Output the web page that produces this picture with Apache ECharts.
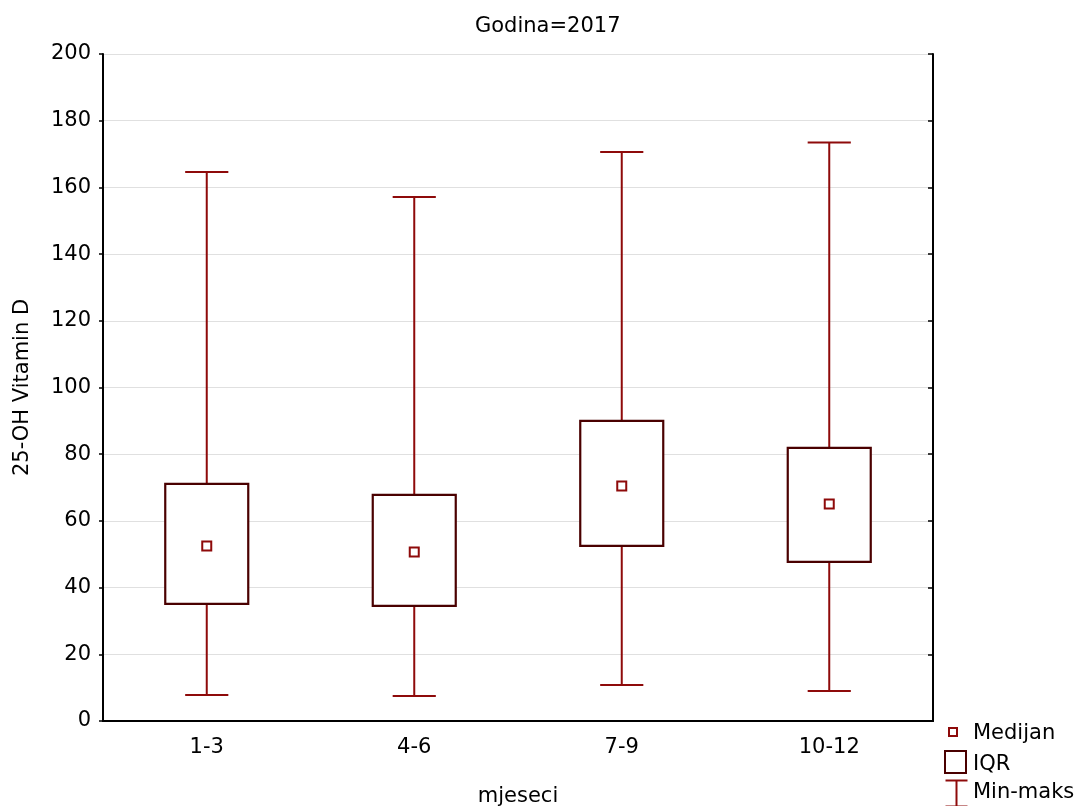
<!DOCTYPE html>
<html>
<head>
<meta charset="utf-8">
<script src="https://cdn.jsdelivr.net/npm/echarts@6/dist/echarts.min.js"></script>
<style>html,body{margin:0;padding:0;background:#fff}#c{width:1080px;height:806px}</style>
</head>
<body>
<div id="c"></div>
<script>
const categories = ['1-3', '4-6', '7-9', '10-12'];
const minValues = [7.8, 7.5, 10.8, 9.0];
const q1Values = [35.1, 34.5, 52.5, 47.7];
const medianValues = [52.5, 50.7, 70.5, 65.1];
const q3Values = [71.1, 67.8, 90.0, 81.9];
const maxValues = [164.6, 157.1, 170.6, 173.5];
const yTicks = [0, 20, 40, 60, 80, 100, 120, 140, 160, 180, 200];

const FONT = '"DejaVu Sans", Verdana, sans-serif';
const FS = 21;
const WHISK = '#8e0a0a';
const BOX = '#4a0000';

const boxData = categories.map((c, i) => [i, minValues[i], q1Values[i], medianValues[i], q3Values[i], maxValues[i]]);
const medData = categories.map((c, i) => [i, medianValues[i]]);

const chart = echarts.init(document.getElementById('c'));
chart.setOption({
  animation: false,
  backgroundColor: '#fff',
  title: {
    text: 'Godina=2017', left: 470, top: 11,
    textStyle: { fontFamily: FONT, fontSize: FS, fontWeight: 'normal', color: '#000' }
  },
  grid: { left: 103, right: 147, top: 54, bottom: 85, containLabel: false, outerBoundsMode: 'none' },
  xAxis: [{
    type: 'category', data: categories, boundaryGap: true,
    axisLine: { lineStyle: { color: '#000', width: 2 } },
    axisTick: { alignWithLabel: true, length: 5, lineStyle: { color: '#000', width: 1.5 } },
    axisLabel: { fontFamily: FONT, fontSize: FS, color: '#000', margin: 16 },
    name: 'mjeseci', nameLocation: 'middle', nameGap: 65,
    nameTextStyle: { fontFamily: FONT, fontSize: FS, color: '#000' }
  }, {
    type: 'category', data: categories, boundaryGap: true, position: 'top',
    axisLine: { lineStyle: { color: '#000', width: 2 } },
    axisTick: { alignWithLabel: true, inside: true, length: 5, lineStyle: { color: '#000', width: 1.5 } },
    axisLabel: { show: false }
  }],
  yAxis: [{
    type: 'value', min: 0, max: 200, interval: 20,
    axisLine: { show: true, lineStyle: { color: '#000', width: 2 } },
    axisTick: { show: true, length: 4, lineStyle: { color: '#000', width: 1.5 } },
    axisLabel: { fontFamily: FONT, fontSize: FS, color: '#000', margin: 12,
      formatter: v => yTicks.includes(v) ? String(v) : '' },
    splitLine: { show: true, lineStyle: { color: '#e0e0e0', width: 1 } },
    name: '25-OH Vitamin D', nameLocation: 'middle', nameGap: 70, nameRotate: 90,
    nameTextStyle: { fontFamily: FONT, fontSize: FS, color: '#000' }
  }, {
    type: 'value', min: 0, max: 200, interval: 20, position: 'right',
    axisLine: { show: true, lineStyle: { color: '#000', width: 2 } },
    axisTick: { show: true, inside: true, length: 5, lineStyle: { color: '#000', width: 1.5 } },
    axisLabel: { show: false },
    splitLine: { show: false }
  }],
  series: [{
    type: 'custom',
    name: 'Min-maks',
    data: boxData,
    encode: { x: 0, y: [1, 2, 3, 4, 5] },
    renderItem: function (params, api) {
      const idx = api.value(0);
      const bw = api.size([1, 0])[0];
      const pMin = api.coord([idx, api.value(1)]);
      const pQ1 = api.coord([idx, api.value(2)]);
      const pQ3 = api.coord([idx, api.value(4)]);
      const pMax = api.coord([idx, api.value(5)]);
      const capHalf = bw * 0.104;
      const boxHalf = bw * 0.2;
      const x = pMin[0];
      const ls = { stroke: WHISK, lineWidth: 2 };
      return {
        type: 'group',
        children: [
          { type: 'line', shape: { x1: x, y1: pMax[1], x2: x, y2: pQ3[1] }, style: ls },
          { type: 'line', shape: { x1: x, y1: pQ1[1], x2: x, y2: pMin[1] }, style: ls },
          { type: 'line', shape: { x1: x - capHalf, y1: pMax[1], x2: x + capHalf, y2: pMax[1] }, style: ls },
          { type: 'line', shape: { x1: x - capHalf, y1: pMin[1], x2: x + capHalf, y2: pMin[1] }, style: ls },
          { type: 'rect', shape: { x: x - boxHalf, y: pQ3[1], width: boxHalf * 2, height: pQ1[1] - pQ3[1] },
            style: { fill: '#fff', stroke: BOX, lineWidth: 2.2 } }
        ]
      };
    },
    z: 3
  }, {
    type: 'scatter',
    name: 'Medijan',
    data: medData,
    symbol: 'rect',
    symbolSize: 9,
    itemStyle: { color: '#fff', borderColor: WHISK, borderWidth: 2, opacity: 1 },
    z: 5
  }],
  graphic: [
    { type: 'rect', left: 948, top: 727, shape: { width: 8, height: 8 }, style: { fill: '#fff', stroke: WHISK, lineWidth: 2 } },
    { type: 'text', left: 973, top: 723, style: { text: 'Medijan', font: FS + 'px ' + FONT, fill: '#000' } },
    { type: 'rect', left: 944, top: 750, shape: { width: 21, height: 22 }, style: { fill: '#fff', stroke: BOX, lineWidth: 2 } },
    { type: 'text', left: 973, top: 754, style: { text: 'IQR', font: FS + 'px ' + FONT, fill: '#000' } },
    { type: 'group', left: 943, top: 778, children: [
      { type: 'line', shape: { x1: 0, y1: 1, x2: 22, y2: 1 }, style: { stroke: WHISK, lineWidth: 2 } },
      { type: 'line', shape: { x1: 11, y1: 1, x2: 11, y2: 27 }, style: { stroke: WHISK, lineWidth: 2 } },
      { type: 'line', shape: { x1: 0, y1: 27, x2: 22, y2: 27 }, style: { stroke: WHISK, lineWidth: 2 } }
    ] },
    { type: 'text', left: 973, top: 782, style: { text: 'Min-maks', font: FS + 'px ' + FONT, fill: '#000' } }
  ]
});
</script>
</body>
</html>
